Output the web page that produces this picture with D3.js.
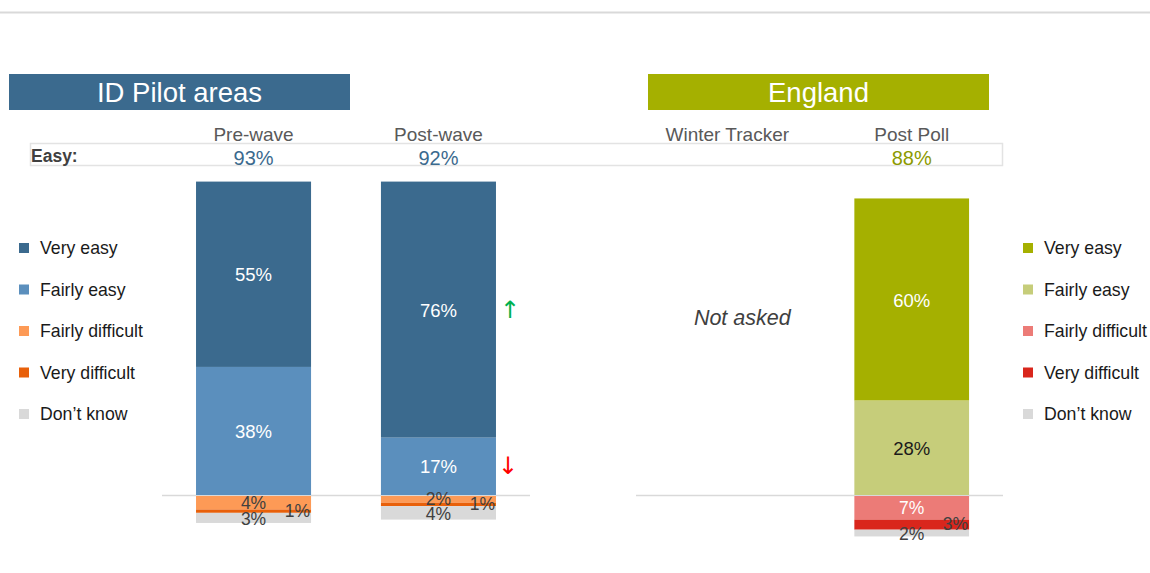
<!DOCTYPE html>
<html>
<head>
<meta charset="utf-8">
<script src="https://cdn.jsdelivr.net/npm/d3@7"></script>
<style>
  body { margin: 0; background: #fff; }
  text { font-family: "Liberation Sans", Arial, sans-serif; }
</style>
</head>
<body>
<script>
// data
var categories = ["Pre-wave", "Post-wave", "Winter Tracker", "Post Poll"];
var veryEasy = [55, 76, null, 60];
var fairlyEasy = [38, 17, null, 28];
var fairlyDifficult = [4, 2, null, 7];
var veryDifficult = [1, 1, null, 3];
var dontKnow = [3, 4, null, 2];
var easyTotal = [93, 92, null, 88];
var legendLabels = ["Very easy", "Fairly easy", "Fairly difficult", "Very difficult", "Don\u2019t know"];
var changeArrows = [null, ["\u2191", "\u2193"], null, null];

var width = 1150, height = 573;

var pilotColors = ["#3b6a8e", "#5b8fbd", "#fd9a56", "#e8600a", "#d9d9d9"];
var englandColors = ["#a5b000", "#c6cd7a", "#ec7b77", "#d9261c", "#d9d9d9"];

var svg = d3.select("body").append("svg")
    .attr("width", width)
    .attr("height", height);

// top rule
svg.append("line")
    .attr("x1", 0).attr("x2", width)
    .attr("y1", 12.5).attr("y2", 12.5)
    .attr("stroke", "#d9d9d9").attr("stroke-width", 2);

// y scale: positive up from baseline, negative down
var y = d3.scaleLinear()
    .domain([-20, 100])
    .range([562.4, 158]);

var panels = [
  {title: "ID Pilot areas", cats: categories.slice(0, 2), range: [162, 530], box: [9, 350], colors: pilotColors, easyColor: "#3b6a8e"},
  {title: "England", cats: categories.slice(2, 4), range: [636, 1003], box: [648, 989], colors: englandColors, easyColor: "#8c9a00"}
];

// Easy row box
svg.append("rect")
    .attr("x", 30.5).attr("y", 143.5)
    .attr("width", 972).attr("height", 22)
    .attr("fill", "none").attr("stroke", "#e3e3e3").attr("stroke-width", 1.5);
svg.append("text")
    .attr("x", 31).attr("y", 161.5)
    .attr("font-size", 17.5).attr("font-weight", "bold")
    .attr("fill", "#404040")
    .text("Easy:");

panels.forEach(function(p) {
  var x = d3.scaleBand()
      .domain(p.cats)
      .range(p.range)
      .paddingInner(0.378)
      .paddingOuter(0.184);

  // header box
  svg.append("rect")
      .attr("x", p.box[0]).attr("y", 74)
      .attr("width", p.box[1] - p.box[0]).attr("height", 36)
      .attr("fill", p.colors[0]);
  svg.append("text")
      .attr("x", (p.box[0] + p.box[1]) / 2).attr("y", 102)
      .attr("text-anchor", "middle")
      .attr("font-size", 27.5).attr("fill", "#fff")
      .text(p.title);

  // baseline
  svg.append("line")
      .attr("x1", p.range[0]).attr("x2", p.range[1])
      .attr("y1", y(0) + 0.5).attr("y2", y(0) + 0.5)
      .attr("stroke", "#d9d9d9").attr("stroke-width", 1.5);

  p.cats.forEach(function(c) {
    var i = categories.indexOf(c);
    var x0 = x(c), bw = x.bandwidth(), cx = x0 + bw / 2;

    svg.append("text")
        .attr("x", cx).attr("y", 140.5)
        .attr("text-anchor", "middle")
        .attr("font-size", 19).attr("fill", "#595959")
        .text(c);

    if (veryEasy[i] == null) {
      svg.append("text")
          .attr("x", cx + 15).attr("y", 325)
          .attr("text-anchor", "middle")
          .attr("font-size", 21.5).attr("font-style", "italic")
          .attr("fill", "#404040")
          .text("Not asked");
      return;
    }

    svg.append("text")
        .attr("x", cx).attr("y", 164.5)
        .attr("text-anchor", "middle")
        .attr("font-size", 20).attr("fill", p.easyColor)
        .text(easyTotal[i] + "%");

    // up segments
    var fe = fairlyEasy[i], ve = veryEasy[i];
    var up = [
      {v0: fe, v1: fe + ve, val: ve, col: p.colors[0], txt: "#fff"},
      {v0: 0, v1: fe, val: fe, col: p.colors[1], txt: p === panels[1] ? "#1a1a1a" : "#fff"}
    ];
    up.forEach(function(s) {
      svg.append("rect")
          .attr("x", x0).attr("width", bw)
          .attr("y", y(s.v1)).attr("height", y(s.v0) - y(s.v1))
          .attr("fill", s.col);
      svg.append("text")
          .attr("x", cx).attr("y", (y(s.v0) + y(s.v1)) / 2 + 7)
          .attr("text-anchor", "middle")
          .attr("font-size", 18.5).attr("fill", s.txt)
          .text(s.val + "%");
    });

    // down segments
    var fd = fairlyDifficult[i], vd = veryDifficult[i], dk = dontKnow[i];
    var down = [
      {v0: 0, v1: fd, col: p.colors[2]},
      {v0: fd, v1: fd + vd, col: p.colors[3]},
      {v0: fd + vd, v1: fd + vd + dk, col: p.colors[4]}
    ];
    down.forEach(function(s) {
      svg.append("rect")
          .attr("x", x0).attr("width", bw)
          .attr("y", y(-s.v0) + 1).attr("height", y(-s.v1) - y(-s.v0))
          .attr("fill", s.col);
    });

    var fdTxt = fd >= 5 ? "#fff" : "#404040";
    svg.append("text")
        .attr("x", cx).attr("y", (y(0) + y(-fd)) / 2 + 7)
        .attr("text-anchor", "middle")
        .attr("font-size", 17.5).attr("fill", fdTxt)
        .text(fd + "%");
    svg.append("text")
        .attr("x", x0 + bw - 1).attr("y", (y(-fd) + y(-fd - vd)) / 2 + 6.5)
        .attr("text-anchor", "end")
        .attr("font-size", 17.5).attr("fill", "#404040")
        .text(vd + "%");
    svg.append("text")
        .attr("x", cx).attr("y", (y(-fd - vd) + y(-fd - vd - dk)) / 2 + 8)
        .attr("text-anchor", "middle")
        .attr("font-size", 17.5).attr("fill", "#404040")
        .text(dk + "%");

    // significance arrows
    if (changeArrows[i]) {
      svg.append("text")
          .attr("x", x0 + bw + 14).attr("y", (y(fe) + y(fe + ve)) / 2 + 8)
          .attr("text-anchor", "middle")
          .style("font-family", "'DejaVu Sans', sans-serif")
          .attr("font-size", 24).attr("fill", "#00b050")
          .text(changeArrows[i][0]);
      svg.append("text")
          .attr("x", x0 + bw + 12).attr("y", (y(0) + y(fe)) / 2 + 8)
          .attr("text-anchor", "middle")
          .style("font-family", "'DejaVu Sans', sans-serif")
          .attr("font-size", 24).attr("fill", "#ff0000")
          .text(changeArrows[i][1]);
    }
  });
});

// legends
var legendX = [19, 1023];
[pilotColors, englandColors].forEach(function(cols, k) {
  var g = svg.append("g").attr("transform", "translate(" + legendX[k] + ",0)");
  legendLabels.forEach(function(lab, j) {
    var ly = 254 + j * 41.5;
    g.append("rect")
        .attr("x", 0).attr("y", ly - 11)
        .attr("width", 10).attr("height", 10)
        .attr("fill", cols[j]);
    g.append("text")
        .attr("x", 21).attr("y", ly)
        .attr("font-size", 17.7).attr("fill", "#1a1a1a")
        .text(lab);
  });
});
</script>
</body>
</html>
